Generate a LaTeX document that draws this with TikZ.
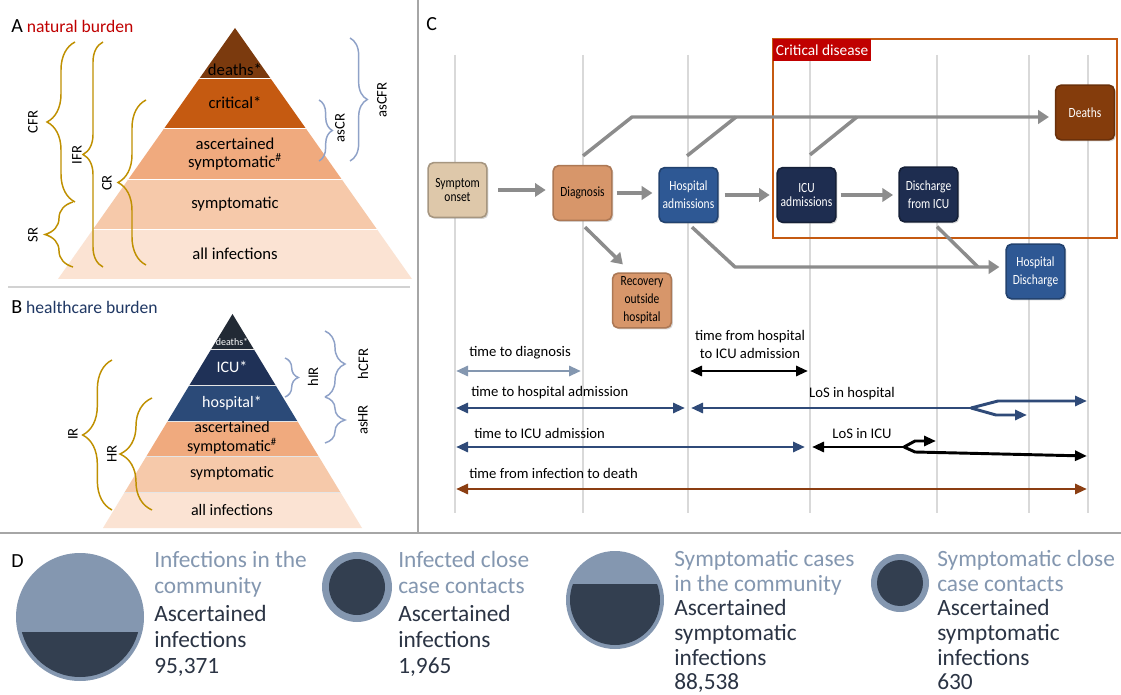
\documentclass[tikz,border=0pt]{standalone}
\usepackage{fontspec}
\setmainfont{Carlito}
\newfontfamily\boxfont[FakeStretch=0.82]{Carlito}
\usetikzlibrary{arrows.meta,decorations.pathreplacing,calc,shadows}
\definecolor{gold}{HTML}{BF9000}
\definecolor{bgray}{HTML}{8FA2C8}
\definecolor{pdeath}{HTML}{7B3A0E}
\definecolor{pcrit}{HTML}{C55A11}
\definecolor{pasc}{HTML}{F0AA7E}
\definecolor{psym}{HTML}{F6C9AA}
\definecolor{pall}{HTML}{FBE3D3}
\definecolor{bdeath}{HTML}{222A35}
\definecolor{bicu}{HTML}{1F3157}
\definecolor{bhosp}{HTML}{2B4A78}
\definecolor{redlab}{HTML}{C00000}
\definecolor{navy}{HTML}{203864}
\definecolor{gridc}{HTML}{D9D9D9}
\definecolor{flow}{HTML}{8C8C8C}
\definecolor{cbeige}{HTML}{DEC8AA}
\definecolor{corange}{HTML}{D7966A}
\definecolor{cblue}{HTML}{2E5894}
\definecolor{cnavy}{HTML}{1E2D50}
\definecolor{cbrown}{HTML}{843C0C}
\definecolor{tlblue}{HTML}{8497B0}
\definecolor{tlnavy}{HTML}{2F4A78}
\definecolor{tlbrown}{HTML}{8B3E12}
\definecolor{dlight}{HTML}{8497B0}
\definecolor{ddark}{HTML}{333F50}
\definecolor{dtext}{HTML}{2B3444}
\definecolor{sepc}{HTML}{A6A6A6}
\tikzset{
  pyrA/.style={font=\fontsize{12.5}{14}\selectfont, inner sep=0pt, align=center},
  pyrB/.style={font=\fontsize{12}{14}\selectfont, inner sep=0pt, align=center},
  brlab/.style={font=\fontsize{11}{13}\selectfont, rotate=90, inner sep=0pt},
  goldbrace/.style={draw=gold, line width=1.1pt, decorate, decoration={brace, amplitude=#1}},
  bluebrace/.style={draw=bgray, line width=1.1pt, decorate, decoration={brace, amplitude=#1}},
  cbox/.style={rounded corners=4pt, minimum width=44pt, minimum height=41pt, line width=1.2pt, inner sep=1pt, align=center, font=\boxfont\fontsize{10.5}{13.5}\selectfont, drop shadow={opacity=0.3, shadow xshift=1.2pt, shadow yshift=-1.2pt}},
  flowline/.style={draw=flow, line width=2.6pt},
  flowarrow/.style={flowline, -{Triangle[length=8pt,width=10pt]}},
  tl/.style={line width=2.2pt},
  tlboth/.style={tl, {Triangle[length=9pt,width=7.5pt]}-{Triangle[length=9pt,width=7.5pt]}},
  tlend/.style={tl, -{Triangle[length=9pt,width=7.5pt]}},
  tlstart/.style={tl, {Triangle[length=9pt,width=7.5pt]}-},
  tltext/.style={font=\fontsize{11}{13}\selectfont, inner sep=0pt},
  dtxt/.style={font=\fontsize{17.5}{19.5}\selectfont, anchor=base west, inner sep=0pt},
  gridl/.style={draw=gridc, line width=0.8pt},
  head/.style={font=\fontsize{13.2}{15}\selectfont, inner sep=0pt, anchor=base west},
  letter/.style={font=\fontsize{15}{17}\selectfont},
}
\begin{document}
\begin{tikzpicture}[x=0.75pt,y=-0.75pt]
\fill[white] (0,0) rectangle (1121,695);
\useasboundingbox (0,0) rectangle (1121,695);

% ---------- separators
\draw[sepc, line width=0.8pt] (418,0) -- (418,532);
\draw[gray!35, line width=1pt] (8,287) -- (410,287);
\draw[sepc, line width=1pt] (0,533) -- (1121,533);

% ---------- headings
\node[head] (ha) at (11,33) {{\fontsize{15}{17}\selectfont A} \textcolor{redlab}{natural burden}};
\node[head] (hb) at (11,314) {{\fontsize{15}{17}\selectfont B} \textcolor{navy}{healthcare burden}};
\node[head, letter] (hc) at (426,31) {C};
\node[head, letter] (hd) at (11,567) {D};

% ---------- pyramid A
\begin{scope}
\clip (235,28) -- (412,279) -- (58,279) -- cycle;
\fill[pdeath] (50,20) rectangle (420,78);
\fill[pcrit] (50,78) rectangle (420,128);
\fill[pasc] (50,128) rectangle (420,179);
\fill[psym] (50,179) rectangle (420,229);
\fill[pall] (50,229) rectangle (420,280);
\foreach \yy in {78,128,179,229} \draw[white, line width=0.6pt] (50,\yy) -- (420,\yy);
\end{scope}
\node[pyrA] (a1) at (235,70) {deaths*};
\node[pyrA] (a2) at (235,103) {critical*};
\node[pyrA] (a3) at (235,154) {ascertained\\symptomatic\textsuperscript{\#}};
\node[pyrA] (a4) at (235,204) {symptomatic};
\node[pyrA] (a5) at (235,254) {all infections};

\draw[goldbrace=21pt] (75,202) -- (75,42);
\node[brlab] (cfr) at (33,122) {CFR};
\draw[goldbrace=21pt] (73,267) -- (73,202);
\node[brlab] (sr) at (33,235) {SR};
\draw[goldbrace=15pt] (103,267) -- (103,42);
\node[brlab] (ifr) at (77,155) {IFR};
\draw[goldbrace=21pt] (146,265) -- (146,100);
\node[brlab] (cr) at (107,183) {CR};
\draw[bluebrace=10pt] (319,100) -- (319,161);
\node[brlab] (ascr) at (340,128) {asCR};
\draw[bluebrace=13pt] (350,38) -- (350,161);
\node[brlab] (ascfr) at (382,100) {asCFR};

% ---------- pyramid B
\begin{scope}
\clip (232.5,314) -- (362,528) -- (103,528) -- cycle;
\fill[bdeath] (90,300) rectangle (380,349);
\fill[bicu] (90,349) rectangle (380,385);
\fill[bhosp] (90,385) rectangle (380,421);
\fill[pasc] (90,421) rectangle (380,456);
\fill[psym] (90,456) rectangle (380,492);
\fill[pall] (90,492) rectangle (380,530);
\foreach \yy in {349,385,421,456,492} \draw[white!80!gray, line width=0.6pt] (90,\yy) -- (380,\yy);
\end{scope}
\node[pyrB, text=white, font=\fontsize{7.5}{9}\selectfont] (b1) at (232,342) {deaths*};
\node[pyrB, text=white] (b2) at (232,367) {ICU*};
\node[pyrB, text=white] (b3) at (232,403) {hospital*};
\node[pyrB] (b4) at (232,438) {ascertained\\symptomatic\textsuperscript{\#}};
\node[pyrB] (b5) at (232,473) {symptomatic};
\node[pyrB] (b6) at (232,510) {all infections};

\draw[goldbrace=22pt] (112,510) -- (112,360);
\node[brlab] (ir) at (73,434) {IR};
\draw[goldbrace=24pt] (152,510) -- (152,398);
\node[brlab] (hr) at (112,454) {HR};
\draw[bluebrace=10pt] (285,358) -- (285,397);
\node[brlab] (hir) at (313,377) {hIR};
\draw[bluebrace=15pt] (325,331) -- (325,397);
\node[brlab] (hcfr) at (363,364) {hCFR};
\draw[bluebrace=15pt] (325,397) -- (325,443);
\node[brlab] (ashr) at (363,420) {asHR};

% ---------- panel C
\foreach \gx in {455,583,688,810,937,1029,1088} \draw[gridl] (\gx,55) -- (\gx,513);
\draw[draw=pcrit, line width=1.8pt] (773,39) rectangle (1117,238);
\node[fill=redlab, text=white, font=\fontsize{11.5}{13}\selectfont, anchor=north west, minimum width=73pt, minimum height=16.5pt, inner sep=2pt] (critlab) at (773,39) {Critical disease};

\node[cbox, fill=cbeige, draw=cbeige!75!black, font=\boxfont\fontsize{10.5}{11}\selectfont] (sym) at (457.5,190) {Symptom\\onset};
\node[cbox, fill=corange, draw=corange!80!black] (diag) at (582.5,193) {Diagnosis};
\node[cbox, fill=cblue, draw=cblue!75!black, text=white] (hosp) at (688.5,195) {Hospital\\admissions};
\node[cbox, fill=cnavy, draw=cnavy!70!black, text=white, font=\boxfont\fontsize{10.5}{11}\selectfont] (icu) at (806.5,195) {ICU\\admissions};
\node[cbox, fill=cnavy, draw=cnavy!70!black, text=white] (dicu) at (928.5,194.5) {Discharge\\from ICU};
\node[cbox, fill=cbrown, draw=cbrown!80!black, text=white] (deaths) at (1085,112.5) {Deaths};
\node[cbox, fill=cblue, draw=cblue!75!black, text=white] (hdis) at (1035.5,271.5) {Hospital\\Discharge};
\node[cbox, fill=corange, draw=corange!80!black] (rec) at (642,300.5) {Recovery\\outside\\hospital};

\draw[flowarrow, shorten <=8pt, shorten >=5pt] (sym.east) -- (sym.east -| diag.west);
\draw[flowarrow, shorten <=3pt, shorten >=4.5pt] (diag.east) -- (diag.east -| hosp.west);
\draw[flowarrow, shorten <=4.5pt, shorten >=5pt] (hosp.east) -- (hosp.east -| icu.west);
\draw[flowarrow, shorten <=3pt, shorten >=4pt] (icu.east) -- (icu.east -| dicu.west);

\coordinate (dj1) at (632,117);
\coordinate (dj2) at (736,117);
\coordinate (dj3) at (857,117);
\coordinate (hj) at (735,267);
\coordinate (dj4) at (978,267);
\draw[flowarrow, line join=round] ($(diag.north)+(0.5,-9)$) -- (dj1) -- ($(deaths.west)+(-6,4.5)$);
\draw[flowline] ($(hosp.north)+(-1.5,-11)$) -- (dj2);
\draw[flowline] ($(icu.north)+(3.5,-12)$) -- (dj3);
\draw[flowarrow] ($(diag.south)+(2.5,6)$) -- ($(rec.north west)+(11,-8)$);
\draw[flowarrow, line join=round] ($(hosp.south)+(3.5,4)$) -- (hj) -- ($(hdis.west)+(-6,-4.5)$);
\draw[flowline] ($(dicu.south)+(8.5,4)$) -- (dj4);

% timelines
\coordinate (t1a) at (456,371); \coordinate (t1b) at (581,371);
\coordinate (t2a) at (690,371); \coordinate (t2b) at (808,371);
\coordinate (t3a) at (456,408); \coordinate (t3b) at (685,408);
\coordinate (t4a) at (691,408); \coordinate (t4s) at (971,408);
\coordinate (t4u) at (998,401); \coordinate (t4ue) at (1087,401);
\coordinate (t4d) at (996,415); \coordinate (t4de) at (1027,415);
\coordinate (t5a) at (456,447); \coordinate (t5b) at (805,447);
\coordinate (t6a) at (812,447); \coordinate (t6s) at (904,447);
\coordinate (t6u) at (915,441); \coordinate (t6ue) at (936,441);
\coordinate (t6d) at (915,452); \coordinate (t6de) at (1087,456);
\coordinate (t7a) at (456,489); \coordinate (t7b) at (1087,489);

\draw[tlboth, tlblue] (t1a) -- (t1b);
\draw[tlboth, black] (t2a) -- (t2b);
\draw[tlboth, tlnavy] (t3a) -- (t3b);
\draw[tlstart, tlnavy, line join=round] (t4a) -- (t4s);
\draw[tlend, tlnavy, line join=round] (t4s) -- (t4u) -- (t4ue);
\draw[tlend, tlnavy, line join=round] (t4s) -- (t4d) -- (t4de);
\draw[tlboth, tlnavy] (t5a) -- (t5b);
\draw[tlstart, black, line join=round] (t6a) -- (t6s);
\draw[tlend, black, line join=round] (t6s) -- (t6u) -- (t6ue);
\draw[tlend, black, line join=round] (t6s) -- (t6d) -- (t6de);
\draw[tlboth, tlbrown] (t7a) -- (t7b);

\node[tltext, anchor=west] (l1) at (469,353) {time to diagnosis};
\node[tltext, align=center] (l2) at (750,344.5) {time from hospital\\to ICU admission};
\node[tltext, anchor=west] (l3) at (471,393) {time to hospital admission};
\node[tltext] (l4) at (852,394) {LoS in hospital};
\node[tltext, anchor=west] (l5) at (474,433) {time to ICU admission};
\node[tltext] (l6) at (862,434) {LoS in ICU};
\node[tltext, anchor=west] (l7) at (469,473) {time from infection to death};

% ---------- panel D
\fill[dlight] (80,617) circle[radius=64];
\begin{scope}
\clip (0,632) rectangle (160,700);
\fill[ddark] (80,617) circle[radius=60];
\end{scope}
\fill[dlight] (357,587) circle[radius=35];
\fill[ddark] (357,587) circle[radius=28];
\fill[dlight] (615,600) circle[radius=49];
\begin{scope}
\clip (560,584) rectangle (670,660);
\fill[ddark] (615,600) circle[radius=45];
\end{scope}
\fill[dlight] (900,583) circle[radius=29];
\fill[ddark] (900,583) circle[radius=23];

\node[dtxt, text=dlight] (d1a) at (154,567) {Infections in the};
\node[dtxt, text=dlight] (d1b) at (154,593) {community};
\node[dtxt, text=dtext] (d1c) at (154,621) {Ascertained};
\node[dtxt, text=dtext] (d1d) at (154,647) {infections};
\node[dtxt, text=dtext] (d1e) at (154,673) {95,371};

\node[dtxt, text=dlight] (d2a) at (398,567) {Infected close};
\node[dtxt, text=dlight] (d2b) at (398,593) {case contacts};
\node[dtxt, text=dtext] (d2c) at (398,621) {Ascertained};
\node[dtxt, text=dtext] (d2d) at (398,647) {infections};
\node[dtxt, text=dtext] (d2e) at (398,673) {1,965};

\node[dtxt, text=dlight] (d3a) at (674,566) {Symptomatic cases};
\node[dtxt, text=dlight] (d3b) at (674,591) {in the community};
\node[dtxt, text=dtext] (d3c) at (674,615) {Ascertained};
\node[dtxt, text=dtext] (d3d) at (674,640) {symptomatic};
\node[dtxt, text=dtext] (d3e) at (674,665) {infections};
\node[dtxt, text=dtext] (d3f) at (674,689) {88,538};

\node[dtxt, text=dlight] (d4a) at (937,566) {Symptomatic close};
\node[dtxt, text=dlight] (d4b) at (937,591) {case contacts};
\node[dtxt, text=dtext] (d4c) at (937,615) {Ascertained};
\node[dtxt, text=dtext] (d4d) at (937,640) {symptomatic};
\node[dtxt, text=dtext] (d4e) at (937,665) {infections};
\node[dtxt, text=dtext] (d4f) at (937,689) {630};
\end{tikzpicture}
\end{document}
